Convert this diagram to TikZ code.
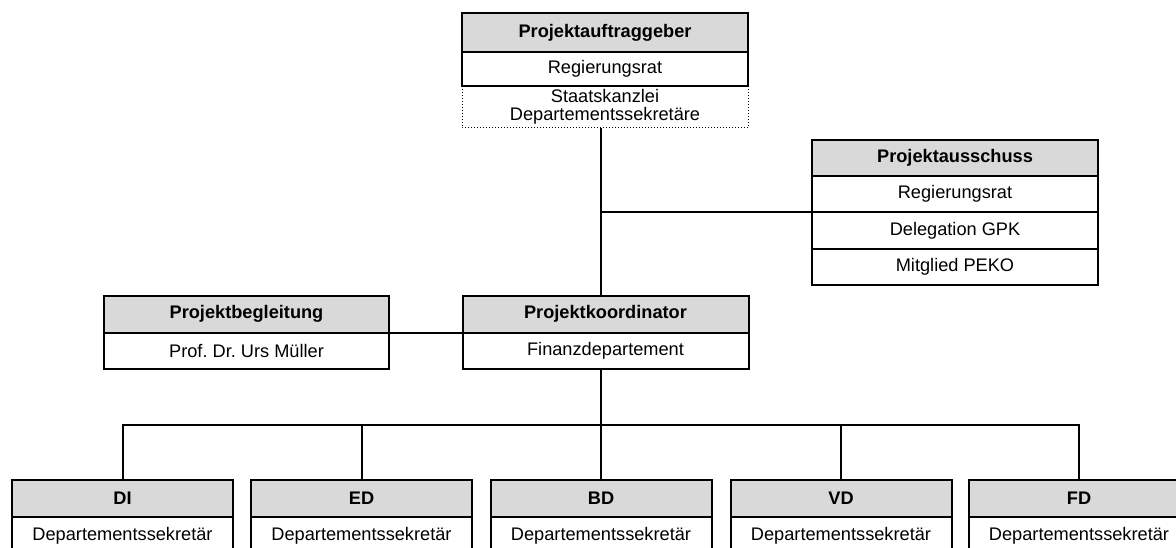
\documentclass[tikz,border=0pt]{standalone}
\usepackage{fontspec}
\setmainfont{Liberation Sans}
\frenchspacing
\begin{document}
\begin{tikzpicture}[x=1pt,y=-1pt,
  box/.style={draw, line width=2pt, inner sep=0pt, outer sep=0pt, align=center,
    font=\fontsize{18.2}{19}\selectfont},
  hdr/.style={box, fill=black!15, font=\bfseries\fontsize{18.2}{19}\selectfont},
  wide/.style={minimum width=286pt},
  narrow/.style={minimum width=221pt},
  conn/.style={line width=2pt},
  dots/.style={line width=1pt, dotted}
]
\useasboundingbox (0,0) rectangle (1176,548);
\clip (0,0) rectangle (1176,548);

% Projektauftraggeber
\node[hdr, wide, minimum height=39pt] (pag) at (605,32.5) {Projektauftraggeber};
\node[box, wide, minimum height=34pt] (pag1) at (605,69) {Regierungsrat};
\node[wide, minimum height=42pt, inner sep=0pt, outer sep=0pt, align=center,
  font=\fontsize{18.2}{17.5}\selectfont] (pag2) at (605,107) {Staatskanzlei\\Departementssekretäre};
\draw[dots] (pag2.north west) -- (pag2.south west) -- (pag2.south east) -- (pag2.north east);

% Projektausschuss
\node[hdr, wide, minimum height=36pt] (pa) at (955,158) {Projektausschuss};
\node[box, wide, minimum height=36.5pt] (pa1) at (955,194) {Regierungsrat};
\node[box, wide, minimum height=36.5pt] (pa2) at (955,230.5) {Delegation GPK};
\node[box, wide, minimum height=36.5pt] (pa3) at (955,267) {Mitglied PEKO};

% Projektbegleitung
\node[hdr, wide, minimum width=285pt, minimum height=36.5pt] (pb) at (246.5,314.25) {Projektbegleitung};
\node[box, wide, minimum width=285pt, minimum height=36.8pt] (pb1) at (246.5,351) {Prof. Dr. Urs Müller};

% Projektkoordinator
\node[hdr, wide, minimum height=36.5pt] (pk) at (605.5,314.25) {Projektkoordinator};
\node[box, wide, minimum height=36.8pt] (pk1) at (605.5,351) {Finanzdepartement};

% Departments
\node[hdr, narrow, minimum height=37pt] (di) at (122.5,498.5) {DI};
\node[box, narrow, minimum height=37pt] (di1) at (122.5,535.5) {Departementssekretär};
\node[hdr, narrow, minimum height=37pt] (ed) at (361.5,498.5) {ED};
\node[box, narrow, minimum height=37pt] (ed1) at (361.5,535.5) {Departementssekretär};
\node[hdr, narrow, minimum height=37pt] (bd) at (601,498.5) {BD};
\node[box, narrow, minimum height=37pt] (bd1) at (601,535.5) {Departementssekretär};
\node[hdr, narrow, minimum height=37pt] (vd) at (841,498.5) {VD};
\node[box, narrow, minimum height=37pt] (vd1) at (841,535.5) {Departementssekretär};
\node[hdr, narrow, minimum height=37pt] (fd) at (1079,498.5) {FD};
\node[box, narrow, minimum height=37pt] (fd1) at (1079,535.5) {Departementssekretär};

\coordinate (bus) at (601,425);

% Connectors
\draw[conn] (pag2.south -| bd.north) -- (pk.north -| bd.north);
\draw[conn] (pa1.south west) -- (pa1.south west -| bd.north);
\draw[conn] (pb.south east) -- (pk.south west);
\draw[conn] (pk1.south -| bd.north) -- (bus);
\draw[conn] (di.north) -- (di.north |- bus) -- (fd.north |- bus) -- (fd.north);
\draw[conn] (ed.north |- bus) -- (ed.north);
\draw[conn] (bd.north |- bus) -- (bd.north);
\draw[conn] (vd.north |- bus) -- (vd.north);
\end{tikzpicture}
\end{document}
